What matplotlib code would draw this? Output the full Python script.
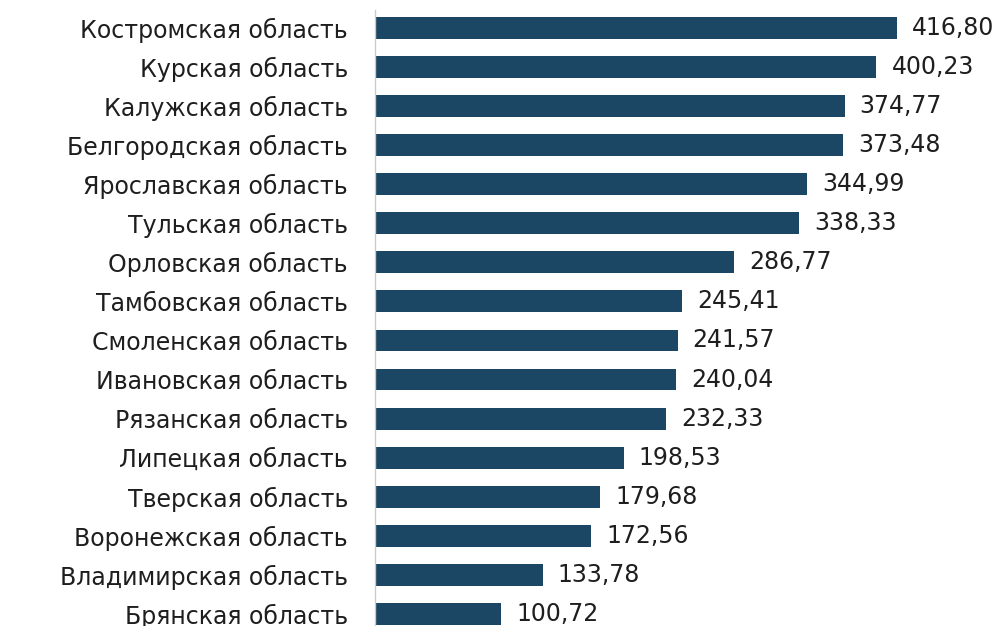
import matplotlib.pyplot as plt

regions = [
    "Костромская область", "Курская область", "Калужская область",
    "Белгородская область", "Ярославская область", "Тульская область",
    "Орловская область", "Тамбовская область", "Смоленская область",
    "Ивановская область", "Рязанская область", "Липецкая область",
    "Тверская область", "Воронежская область", "Владимирская область",
    "Брянская область",
]
values = [416.80, 400.23, 374.77, 373.48, 344.99, 338.33, 286.77, 245.41,
          241.57, 240.04, 232.33, 198.53, 179.68, 172.56, 133.78, 100.72]

plt.rcParams['font.family'] = ['DejaVu Sans']

fig = plt.figure(figsize=(10.04, 6.26), dpi=100)
# axes placed in pixel terms: left edge at x=375, top at y=10
ax = fig.add_axes([375 / 1004, 0, 1 - 375 / 1004, 1 - 10 / 626])

y = list(range(len(regions)))
ax.barh(y, values, height=0.56, color='#1b4764')

for yi, v in zip(y, values):
    ax.text(v + 12, yi, f"{v:.2f}".replace('.', ','), va='center', ha='left',
            fontsize=17, color='#1e1e1e')

ax.set_yticks(y, regions)
ax.tick_params(axis='y', length=0, pad=19.5, labelsize=17, labelcolor='#1e1e1e')
ax.set_xticks([])
ax.set_xlim(0, 502)
ax.set_ylim(15.31, -0.46)

for side in ['top', 'right', 'bottom']:
    ax.spines[side].set_visible(False)
ax.spines['left'].set_color('#cccccc')
ax.spines['left'].set_linewidth(1)

fig.savefig("out.png", dpi=100)
